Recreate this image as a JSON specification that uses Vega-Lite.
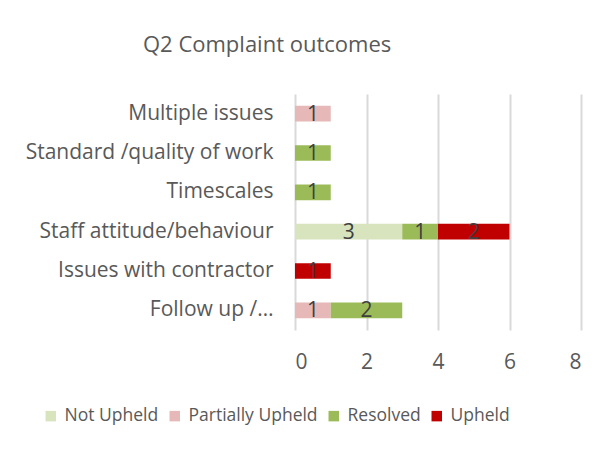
{
  "$schema": "https://vega.github.io/schema/vega-lite/v6.json",
  "width": 286,
  "height": 236,
  "autosize": {"type": "none"},
  "padding": {"left": 295, "top": 94, "right": 30, "bottom": 121},
  "background": "white",
  "title": {
    "text": "Q2 Complaint outcomes",
    "anchor": "start",
    "frame": "group",
    "dx": -152,
    "offset": 37,
    "font": "Open Sans",
    "fontSize": 22,
    "fontWeight": "normal",
    "color": "#595959"
  },
  "data": {
    "values": [
      {"category": "Multiple issues", "outcome": "Partially Upheld", "count": 1},
      {"category": "Standard /quality of work", "outcome": "Resolved", "count": 1},
      {"category": "Timescales", "outcome": "Resolved", "count": 1},
      {"category": "Staff attitude/behaviour", "outcome": "Not Upheld", "count": 3},
      {"category": "Staff attitude/behaviour", "outcome": "Resolved", "count": 1},
      {"category": "Staff attitude/behaviour", "outcome": "Upheld", "count": 2},
      {"category": "Issues with contractor", "outcome": "Upheld", "count": 1},
      {"category": "Follow up /…", "outcome": "Partially Upheld", "count": 1},
      {"category": "Follow up /…", "outcome": "Resolved", "count": 2}
    ]
  },
  "encoding": {
    "y": {
      "field": "category",
      "type": "nominal",
      "sort": ["Multiple issues", "Standard /quality of work", "Timescales", "Staff attitude/behaviour", "Issues with contractor", "Follow up /…"],
      "scale": {"paddingInner": 0.6, "paddingOuter": 0.3},
      "axis": {"title": null, "domain": false, "ticks": false, "labelPadding": 22, "labelFont": "Open Sans", "labelFontSize": 21, "labelColor": "#595959", "labelLimit": 300}
    },
    "order": {"field": "outcome", "sort": "ascending"}
  },
  "layer": [
    {
      "mark": {"type": "bar"},
      "encoding": {
        "x": {
          "field": "count",
          "type": "quantitative",
          "stack": "zero",
          "scale": {"domain": [0, 8]},
          "axis": {"title": null, "values": [0, 2, 4, 6, 8], "domain": false, "ticks": false, "grid": true, "gridColor": "#d9d9d9", "gridWidth": 2, "labelPadding": 21, "labelFont": "Open Sans", "labelFontSize": 21, "labelColor": "#595959"}
        },
        "color": {
          "field": "outcome",
          "type": "nominal",
          "scale": {"domain": ["Not Upheld", "Partially Upheld", "Resolved", "Upheld"], "range": ["#d7e4bd", "#e6b9b8", "#9bbb59", "#c00000"]},
          "legend": {
            "title": null,
            "orient": "none",
            "direction": "horizontal",
            "legendX": -253,
            "legendY": 313,
            "symbolType": "square",
            "symbolSize": 110,
            "symbolStrokeWidth": 0,
            "symbolOpacity": 1,
            "labelFont": "Open Sans",
            "labelFontSize": 17.5,
            "labelColor": "#595959",
            "labelOffset": 5,
            "columnPadding": 7,
            "labelLimit": 300
          }
        }
      }
    },
    {
      "mark": {"type": "text", "font": "Open Sans", "fontSize": 21, "color": "#404040", "baseline": "middle", "align": "center", "dy": 1},
      "encoding": {
        "x": {"field": "count", "type": "quantitative", "stack": "zero", "bandPosition": 0.5},
        "detail": {"field": "outcome", "type": "nominal"},
        "text": {"field": "count", "type": "quantitative"}
      }
    }
  ],
  "config": {"view": {"stroke": null}}
}
